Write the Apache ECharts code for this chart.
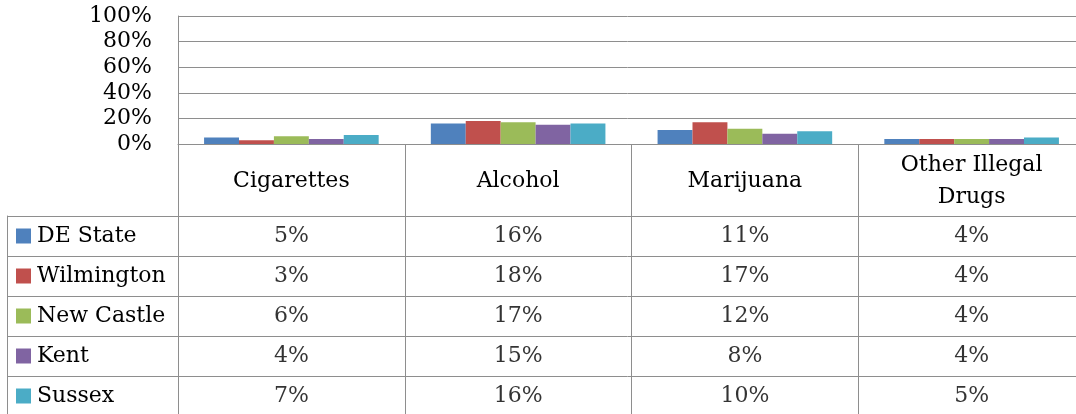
<!DOCTYPE html>
<html>
<head>
<meta charset="utf-8">
<script src="https://cdn.jsdelivr.net/npm/echarts@6/dist/echarts.min.js"></script>
<style>
html,body{margin:0;padding:0;background:#fff;}
#c{width:1076px;height:414px;}
</style>
</head>
<body>
<div id="c"></div>
<script>
const categories = ['Cigarettes', 'Alcohol', 'Marijuana', 'Other Illegal\nDrugs'];
const seriesNames = ['DE State', 'Wilmington', 'New Castle', 'Kent', 'Sussex'];
const deState = [5, 16, 11, 4];
const wilmington = [3, 18, 17, 4];
const newCastle = [6, 17, 12, 4];
const kent = [4, 15, 8, 4];
const sussex = [7, 16, 10, 5];
const seriesValues = [deState, wilmington, newCastle, kent, sussex];
const colors = ['#4F81BD', '#C0504D', '#9BBB59', '#8064A2', '#4BACC6'];
const yMin = 0, yMax = 100, yStep = 20;

const FONT = 'DejaVu Serif';
const LINE = '#8e8e8e';
const FS = 22;

const rich = { t: { fontFamily: FONT, fontSize: FS, color: '#000', padding: [0, 0, 0, 6] } };
colors.forEach((c, i) => { rich['s' + i] = { width: 15, height: 15, backgroundColor: c }; });

const barSeries = seriesNames.map((name, i) => ({
  name: name,
  type: 'bar',
  xAxisIndex: 0,
  yAxisIndex: 0,
  data: seriesValues[i],
  barGap: '0%',
  barCategoryGap: '23%',
  itemStyle: { color: colors[i] },
  silent: true
}));

const cellData = [];
seriesNames.forEach((name, i) => {
  categories.forEach((cat, j) => {
    cellData.push([cat, name, seriesValues[i][j]]);
  });
});

const option = {
  animation: false,
  backgroundColor: '#fff',
  textStyle: { fontFamily: FONT },
  grid: [
    { left: 178, width: 907, top: 16, height: 128, containLabel: false, outerBoundsMode: 'none' },
    { left: 178, width: 907, top: 216, height: 200, containLabel: false, outerBoundsMode: 'none' }
  ],
  xAxis: [
    {
      gridIndex: 0,
      type: 'category',
      data: categories,
      axisLine: { show: true, lineStyle: { color: LINE, width: 1 } },
      axisTick: { show: true, length: 72, interval: 0, alignWithLabel: false, lineStyle: { color: LINE, width: 1 } },
      axisLabel: {
        interval: 0, margin: 37, verticalAlign: 'middle',
        fontFamily: FONT, fontSize: FS, color: '#000', lineHeight: 32, align: 'center'
      },
      splitLine: { show: false }
    },
    {
      gridIndex: 1,
      type: 'category',
      data: categories,
      position: 'top',
      axisLine: { show: true, lineStyle: { color: LINE, width: 1 } },
      axisTick: { show: false },
      axisLabel: { show: false },
      splitLine: { show: true, interval: 0, lineStyle: { color: LINE, width: 1 } }
    }
  ],
  yAxis: [
    {
      gridIndex: 0,
      type: 'value',
      min: yMin, max: yMax, interval: yStep,
      axisLine: { show: true, lineStyle: { color: LINE, width: 1 } },
      axisTick: { show: false },
      axisLabel: { formatter: '{value}%', margin: 26, fontFamily: FONT, fontSize: FS, color: '#000' },
      splitLine: { show: true, lineStyle: { color: LINE, width: 1 } }
    },
    {
      gridIndex: 1,
      type: 'category',
      data: seriesNames,
      inverse: true,
      axisLine: { show: true, lineStyle: { color: LINE, width: 1 } },
      axisTick: { show: true, length: 171, interval: 0, alignWithLabel: false, lineStyle: { color: LINE, width: 1 } },
      axisLabel: {
        interval: 0, margin: 162, align: 'left',
        formatter: function (v, idx) { return '{s' + idx + '|}{t|' + v + '}'; },
        rich: rich
      },
      splitLine: { show: true, interval: 0, lineStyle: { color: LINE, width: 1 } }
    },
    {
      gridIndex: 1,
      type: 'category',
      data: seriesNames,
      inverse: true,
      position: 'left',
      offset: 171,
      axisLine: { show: true, lineStyle: { color: LINE, width: 1 } },
      axisTick: { show: false },
      axisLabel: { show: false },
      splitLine: { show: false }
    }
  ],
  series: barSeries.concat([{
    type: 'scatter',
    xAxisIndex: 1,
    yAxisIndex: 1,
    data: cellData,
    symbolSize: 1,
    itemStyle: { color: 'rgba(0,0,0,0)' },
    silent: true,
    label: {
      show: true, position: 'inside',
      formatter: function (p) { return p.value[2] + '%'; },
      fontFamily: FONT, fontSize: FS, color: '#000'
    }
  }])
};

const chart = echarts.init(document.getElementById('c'), null, { renderer: 'canvas' });
chart.setOption(option);
</script>
</body>
</html>
